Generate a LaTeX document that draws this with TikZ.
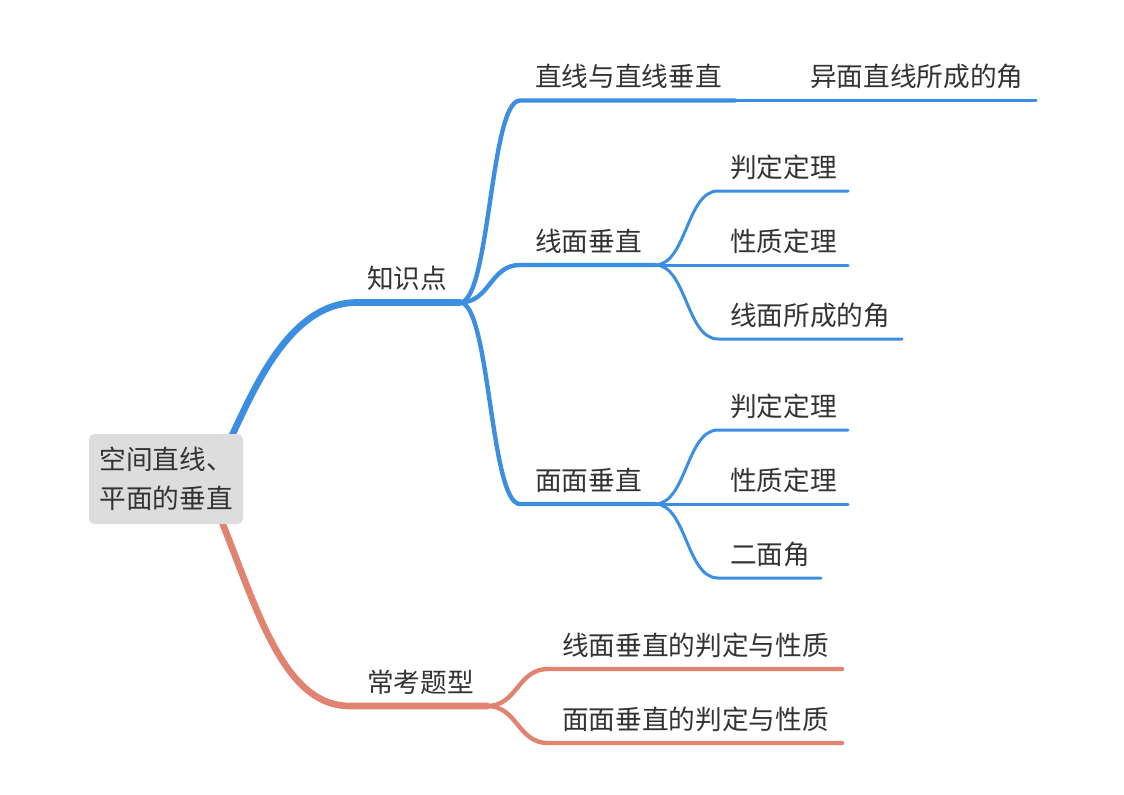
\documentclass[tikz,border=0pt]{standalone}
\usepackage{fontspec}
\setmainfont{Noto Sans CJK SC}
\definecolor{blu}{RGB}{60,143,224}
\definecolor{ora}{RGB}{224,131,112}
\definecolor{txt}{RGB}{51,51,51}
\definecolor{rootbg}{RGB}{221,221,221}
\begin{document}
\begin{tikzpicture}[x=0.75pt,y=-0.75pt,
  lbl/.style={anchor=base west, inner sep=0pt, text=txt, font=\fontsize{20}{24}\selectfont},
  rootbox/.style={fill=rootbg, rounded corners=4pt, inner xsep=6.75pt, inner ysep=0pt,
    minimum width=115.5pt, minimum height=67.5pt, align=left, text=txt,
    font=\fontsize{20}{29.25}\selectfont},
  br1/.style={line width=5pt, line cap=round},
  br2/.style={line width=3.3pt, line cap=round},
  br3/.style={line width=2.25pt, line cap=round}]
\useasboundingbox (0,0) rectangle (1124,794);

% coordinates
\coordinate (r1) at (225,450);
\coordinate (r2) at (215,505);
\coordinate (k0) at (357,302.5);
\coordinate (kJ) at (460,302.5);
\coordinate (a0) at (520,100.5);
\coordinate (aJ) at (735,100.5);
\coordinate (a1) at (1036,100.5);
\coordinate (b0) at (520,265);
\coordinate (bJ) at (655,265);
\coordinate (c0) at (520,504);
\coordinate (cJ) at (655,504);
\coordinate (b10) at (718,191);
\coordinate (b1e) at (848,191);
\coordinate (b2e) at (848,265);
\coordinate (b30) at (718,339);
\coordinate (b3e) at (902,339);
\coordinate (c10) at (718,430);
\coordinate (c1e) at (848,430);
\coordinate (c2e) at (848,504);
\coordinate (c30) at (718,578);
\coordinate (c3e) at (821,578);
\coordinate (q0) at (350,706);
\coordinate (qJ) at (487,706);
\coordinate (q10) at (548,669);
\coordinate (q1e) at (842,669);
\coordinate (q20) at (548,743);
\coordinate (q2e) at (842,743);

% level 1
\draw[br1, blu] (r1) .. controls (250,400) and (285,302.5) .. (k0) -- (kJ);
\draw[br1, ora] (r2) .. controls (255,600) and (280,706) .. (q0) -- (qJ);

% level 2 blue
\draw[br2, blu] (kJ) .. controls (490,302.5) and (490,100.5) .. (a0) -- (aJ);
\draw[br3, blu] (aJ) -- (a1);
\draw[br2, blu] (kJ) .. controls (490,302.5) and (490,265) .. (b0) -- (bJ);
\draw[br2, blu] (kJ) .. controls (490,302.5) and (490,504) .. (c0) -- (cJ);

% level 3 blue
\draw[br3, blu] (bJ) .. controls (686.5,265) and (686.5,191) .. (b10) -- (b1e);
\draw[br3, blu] (bJ) -- (b2e);
\draw[br3, blu] (bJ) .. controls (686.5,265) and (686.5,339) .. (b30) -- (b3e);
\draw[br3, blu] (cJ) .. controls (686.5,504) and (686.5,430) .. (c10) -- (c1e);
\draw[br3, blu] (cJ) -- (c2e);
\draw[br3, blu] (cJ) .. controls (686.5,504) and (686.5,578) .. (c30) -- (c3e);

% level 2 orange
\draw[br2, ora] (qJ) .. controls (517.5,706) and (517.5,669) .. (q10) -- (q1e);
\draw[br2, ora] (qJ) .. controls (517.5,706) and (517.5,743) .. (q20) -- (q2e);

% root
\node[rootbox] (root) at (166,479) {空间直线、\\平面的垂直};

% labels
\node[lbl] (zs) at (367,288) {知识点};
\node[lbl] (zx) at (535,86) {直线与直线垂直};
\node[lbl] (ym) at (810,86) {异面直线所成的角};
\node[lbl] (xm) at (535,251) {线面垂直};
\node[lbl] (mm) at (535,490) {面面垂直};
\node[lbl] (xm1) at (730,177) {判定定理};
\node[lbl] (xm2) at (730,251) {性质定理};
\node[lbl] (xm3) at (730,325) {线面所成的角};
\node[lbl] (mm1) at (730,416) {判定定理};
\node[lbl] (mm2) at (730,490) {性质定理};
\node[lbl] (mm3) at (730,564) {二面角};
\node[lbl] (ck) at (367,692) {常考题型};
\node[lbl] (ck1) at (562,655) {线面垂直的判定与性质};
\node[lbl] (ck2) at (562,729) {面面垂直的判定与性质};
\end{tikzpicture}
\end{document}
